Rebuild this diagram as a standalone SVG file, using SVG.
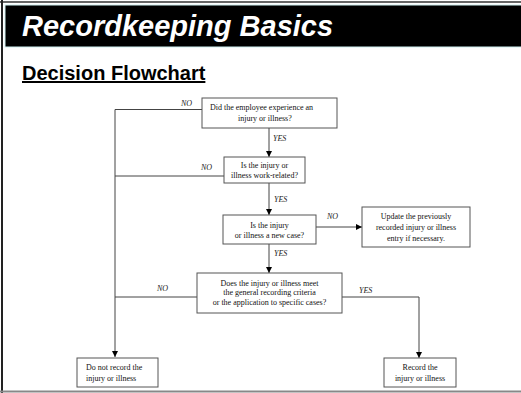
<svg xmlns="http://www.w3.org/2000/svg" width="521" height="393" viewBox="0 0 521 393">
<style>
.box{fill:#fff;stroke:#555;stroke-width:1}
.t{font-family:"Liberation Serif","Times New Roman",serif;font-size:8px;fill:#111}
.lbl{font-family:"Liberation Serif","Times New Roman",serif;font-size:8px;font-style:italic;fill:#222}
.ln{fill:none;stroke:#444;stroke-width:1}
</style>
<defs>
<marker id="ah" viewBox="0 0 8 8" refX="8" refY="4" markerWidth="6" markerHeight="6" markerUnits="userSpaceOnUse" orient="auto">
<path d="M0,0 L8,4 L0,8 Z" fill="#000"/>
</marker>
</defs>
<rect width="521" height="393" fill="#fff"/>
<line x1="0" y1="2" x2="521" y2="2" stroke="#666" stroke-width="2"/>
<line x1="2" y1="0" x2="2" y2="393" stroke="#222" stroke-width="2"/>
<line x1="0" y1="391.5" x2="521" y2="391.5" stroke="#888" stroke-width="2"/>
<rect x="5" y="5" width="520" height="42" fill="#000" stroke="#cfeff0" stroke-width="1"/>
<text x="22" y="36" font-family="Liberation Sans,Arial,sans-serif" font-size="29" font-weight="bold" font-style="italic" fill="#fff">Recordkeeping Basics</text>
<text x="22" y="80" font-family="Liberation Sans,Arial,sans-serif" font-size="20" font-weight="bold" text-decoration="underline" fill="#000">Decision Flowchart</text>

<g id="connectors">
<polyline class="ln" points="202,109.5 115,109.5 115,357" marker-end="url(#ah)"/>
<line class="ln" x1="224" y1="176" x2="115" y2="176"/>
<line class="ln" x1="197" y1="297" x2="115" y2="297"/>
<line class="ln" x1="269" y1="128" x2="269" y2="157" marker-end="url(#ah)"/>
<line class="ln" x1="269" y1="183" x2="269" y2="215" marker-end="url(#ah)"/>
<line class="ln" x1="269" y1="244" x2="269" y2="273" marker-end="url(#ah)"/>
<line class="ln" x1="316" y1="227" x2="362" y2="227" marker-end="url(#ah)"/>
<polyline class="ln" points="342,297 419,297 419,358" marker-end="url(#ah)"/>
<text class="lbl" x="181" y="106">NO</text>
<text class="lbl" x="273" y="141">YES</text>
<text class="lbl" x="201" y="170">NO</text>
<text class="lbl" x="274" y="202">YES</text>
<text class="lbl" x="327" y="219">NO</text>
<text class="lbl" x="274" y="256">YES</text>
<text class="lbl" x="157" y="291">NO</text>
<text class="lbl" x="359" y="293">YES</text>
</g>

<g id="q1">
<rect class="box" x="202" y="98" width="135" height="30"/>
<text class="t" x="210" y="110">Did the employee experience an</text>
<text class="t" x="238" y="121">injury or illness?</text>
</g>
<g id="q2">
<rect class="box" x="224" y="157" width="81" height="26"/>
<text class="t" x="264.5" y="168" text-anchor="middle">Is the injury or</text>
<text class="t" x="264.5" y="178" text-anchor="middle">illness work-related?</text>
</g>
<g id="q3">
<rect class="box" x="223" y="215" width="93" height="29"/>
<text class="t" x="269.5" y="228" text-anchor="middle">Is the injury</text>
<text class="t" x="269.5" y="238" text-anchor="middle">or illness a new case?</text>
</g>
<g id="update">
<rect class="box" x="362" y="207" width="108" height="40"/>
<text class="t" x="416" y="219" text-anchor="middle">Update the previously</text>
<text class="t" x="416" y="230" text-anchor="middle">recorded injury or illness</text>
<text class="t" x="416" y="241" text-anchor="middle">entry if necessary.</text>
</g>
<g id="q4">
<rect class="box" x="197" y="273" width="145" height="40"/>
<text class="t" x="269.5" y="286" text-anchor="middle">Does the injury or illness meet</text>
<text class="t" x="269.5" y="295" text-anchor="middle">the general recording criteria</text>
<text class="t" x="269.5" y="305" text-anchor="middle">or the application to specific cases?</text>
</g>
<g id="norecord">
<rect class="box" x="77" y="358" width="81" height="29"/>
<text class="t" x="86" y="370">Do not record the</text>
<text class="t" x="86" y="381">injury or illness</text>
</g>
<g id="record">
<rect class="box" x="384" y="358" width="72" height="29"/>
<text class="t" x="420" y="370" text-anchor="middle">Record the</text>
<text class="t" x="420" y="381" text-anchor="middle">injury or illness</text>
</g>
</svg>
